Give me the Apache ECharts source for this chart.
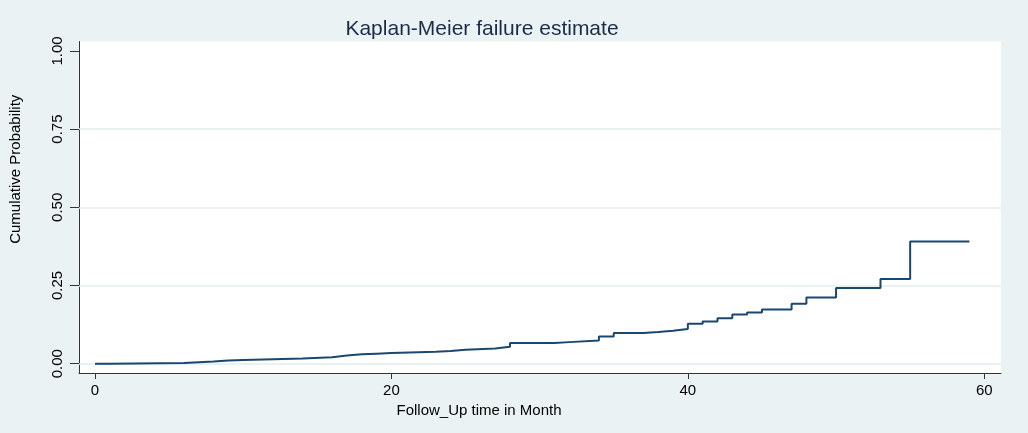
<!DOCTYPE html>
<html>
<head>
<meta charset="utf-8">
<script src="https://cdn.jsdelivr.net/npm/echarts@6/dist/echarts.min.js"></script>
<style>
  html, body { margin: 0; padding: 0; background: #eaf2f3; }
  #chart { width: 1028px; height: 433px; }
</style>
</head>
<body>
<div id="chart"></div>
<script>
// follow-up month where the estimate steps, and the failure estimate from there on
const months = [0, 1, 6, 7, 8, 9, 10, 14, 16, 17, 18, 19, 20, 23, 24, 25, 27, 28, 31, 32,
  34, 35, 37, 38, 39, 40, 41, 42, 43, 44, 45, 47, 48, 50, 53, 55, 59];
const failure = [0, 0.002, 0.005, 0.007, 0.010, 0.012, 0.017, 0.021, 0.026, 0.030, 0.032,
  0.034, 0.038, 0.041, 0.045, 0.049, 0.054, 0.066, 0.069, 0.074, 0.087, 0.098, 0.101,
  0.105, 0.111, 0.128, 0.135, 0.145, 0.157, 0.164, 0.173, 0.192, 0.212, 0.242, 0.271,
  0.391, 0.391];
const xTicks = [0, 20, 40, 60];
const yTicks = [0, 0.25, 0.5, 0.75, 1];
const gridValues = [0, 0.25, 0.5, 0.75];

const chart = echarts.init(document.getElementById('chart'));
const font = '"Liberation Sans", Arial, sans-serif';

const option = {
  backgroundColor: '#eaf2f3',
  animation: false,
  title: {
    text: 'Kaplan-Meier failure estimate',
    left: 477,
    top: 14,
    textAlign: 'center',
    textStyle: { fontFamily: font, fontSize: 21, fontWeight: 'normal', color: '#1c2b4a' }
  },
  grid: {
    left: 76,
    right: 27,
    top: 41.5,
    bottom: 60,
    show: true,
    backgroundColor: '#ffffff',
    borderWidth: 0
  },
  xAxis: {
    type: 'value',
    min: -1.08,
    max: 61.13,
    name: 'Follow_Up time in Month',
    nameLocation: 'middle',
    nameGap: 30,
    nameTextStyle: { fontFamily: font, fontSize: 15, color: '#000', padding: [0, 122, 0, 0] },
    axisLine: { show: true, onZero: false, lineStyle: { color: '#333', width: 1 } },
    axisTick: { show: true, length: 6, customValues: xTicks, lineStyle: { color: '#333' } },
    axisLabel: {
      customValues: xTicks,
      margin: 10,
      fontFamily: font, fontSize: 15, color: '#000'
    },
    splitLine: { show: false }
  },
  yAxis: {
    type: 'value',
    min: -0.0297,
    max: 1.030,
    name: 'Cumulative Probability',
    nameLocation: 'middle',
    nameGap: 56,
    nameRotate: 90,
    nameTextStyle: { fontFamily: font, fontSize: 15, color: '#000', padding: [0, 0, 0, 76] },
    axisLine: { show: true, onZero: false, lineStyle: { color: '#333', width: 1 } },
    axisTick: { show: true, length: 9, customValues: yTicks, lineStyle: { color: '#333' } },
    axisLabel: {
      customValues: yTicks,
      rotate: 90,
      margin: 14,
      fontFamily: font, fontSize: 15, color: '#000',
      formatter: v => v.toFixed(2)
    },
    splitLine: { show: false }
  },
  series: [{
    // gridlines only, kept under the estimate line
    type: 'line',
    data: [],
    markLine: {
      z: 1,
      silent: true,
      symbol: 'none',
      label: { show: false },
      lineStyle: { color: '#e3ecee', width: 1.5, type: 'solid' },
      data: gridValues.map(v => ({ yAxis: v }))
    }
  }, {
    type: 'line',
    step: 'end',
    data: months.map((m, i) => [m, failure[i]]),
    symbol: 'none',
    lineStyle: { color: '#1a476f', width: 2 },
    z: 6
  }]
};

chart.setOption(option);
</script>
</body>
</html>
